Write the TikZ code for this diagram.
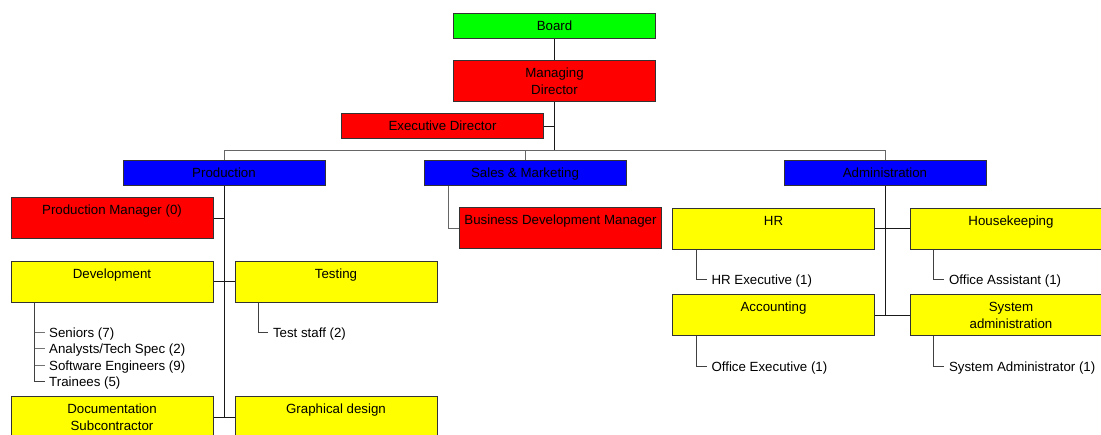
\documentclass[tikz,border=0pt]{standalone}
\usepackage{fontspec}
\setmainfont{Liberation Sans}
\usetikzlibrary{calc}
\definecolor{cgreen}{RGB}{0,255,0}
\definecolor{cred}{RGB}{255,0,0}
\definecolor{cblue}{RGB}{0,0,255}
\definecolor{cyellow}{RGB}{255,255,0}
\begin{document}
\begin{tikzpicture}[x=1pt,y=-1pt,
  box/.style={draw=black!80, line width=1pt, minimum width=202pt, minimum height=41pt, inner sep=0pt},
  short/.style={minimum height=25pt},
  txt/.style={inner sep=0pt, text height=9.5pt, text depth=0pt, font=\fontsize{13.3}{16}\selectfont},
  item/.style={txt, anchor=west, inner xsep=4.5pt},
  conn/.style={draw=black!90, line width=1pt},
  bus/.style={draw=black!60, line width=1pt},
  subline/.style={draw=black!75, line width=1pt},
  tick/.style={draw=black!55, line width=1pt}]
\useasboundingbox (0,0) rectangle (1101,435);
\clip (0,0) rectangle (1101,435);

% boxes
\node[box, short, fill=cgreen] (board) at (554.5,26.5) {};
\node[box, fill=cred] (md) at (554.5,81.5) {};
\node[box, short, fill=cred] (ed) at (442.5,126.5) {};
\node[box, short, fill=cblue] (prod) at (224,173.5) {};
\node[box, short, fill=cblue] (sales) at (525,173.5) {};
\node[box, short, fill=cblue] (admin) at (885,173.5) {};
\node[box, fill=cred] (pm) at (112,218.5) {};
\node[box, fill=cred] (bdm) at (560.5,228.5) {};
\node[box, fill=cyellow] (dev) at (112,282) {};
\node[box, fill=cyellow] (test) at (336,282) {};
\node[box, fill=cyellow] (doc) at (112,417.5) {};
\node[box, fill=cyellow] (gfx) at (336,417.5) {};
\node[box, fill=cyellow] (hr) at (773.5,229) {};
\node[box, fill=cyellow] (hk) at (1011,229) {};
\node[box, fill=cyellow] (acc) at (773.5,315.5) {};
\node[box, fill=cyellow] (sys) at (1011,315.5) {};

% box texts
\node[txt] (tboard) at ($(board.north)+(0,12.5)$) {Board};
\node[txt] (tmd1) at ($(md.north)+(0,12.5)$) {Managing};
\node[txt] (tmd2) at ($(md.north)+(0,29)$) {Director};
\node[txt] (ted) at ($(ed.north)+(0,12.5)$) {Executive Director};
\node[txt] (tprod) at ($(prod.north)+(0,12.5)$) {Production};
\node[txt] (tsales) at ($(sales.north)+(0,12.5)$) {Sales \& Marketing};
\node[txt] (tadmin) at ($(admin.north)+(0,12.5)$) {Administration};
\node[txt] (tpm) at ($(pm.north)+(0,12.5)$) {Production Manager (0)};
\node[txt] (tbdm) at ($(bdm.north)+(0,12.5)$) {Business Development Manager};
\node[txt] (tdev) at ($(dev.north)+(0,12.5)$) {Development};
\node[txt] (ttest) at ($(test.north)+(0,12.5)$) {Testing};
\node[txt] (tdoc1) at ($(doc.north)+(0,12.5)$) {Documentation};
\node[txt] (tdoc2) at ($(doc.north)+(0,29)$) {Subcontractor};
\node[txt] (tgfx) at ($(gfx.north)+(0,12.5)$) {Graphical design};
\node[txt] (thr) at ($(hr.north)+(0,12.5)$) {HR};
\node[txt] (thk) at ($(hk.north)+(0,12.5)$) {Housekeeping};
\node[txt] (tacc) at ($(acc.north)+(0,12.5)$) {Accounting};
\node[txt] (tsys1) at ($(sys.north)+(0,12.5)$) {System};
\node[txt] (tsys2) at ($(sys.north)+(0,29)$) {administration};

% top connectors
\coordinate (busmid) at ($(md.south)+(0,48)$);
\coordinate (busL) at (prod.north |- busmid);
\coordinate (busR) at (admin.north |- busmid);
\draw[conn] (board) -- (md);
\draw[conn] (md.south) -- (busmid);
\draw[conn] (ed.east) -- (ed.east -| md.south);
\draw[bus] (busL) -- (busR);
\draw[bus] (busL) -- (prod.north);
\draw[bus] (sales.north |- busmid) -- (sales.north);
\draw[bus] (busR) -- (admin.north);

% production branch
\draw[conn] (prod.south) -- (prod.south |- doc.east);
\draw[conn] (pm.east) -- (pm.east -| prod.south);
\draw[conn] (dev.east) -- (test.west);
\draw[conn] (doc.east) -- (gfx.west);

% sales branch
\coordinate (strunk) at ($(sales.south west)+(24.5,0)$);
\draw[bus] (strunk) |- (bdm.west);

% administration branch
\draw[conn] (admin.south) -- (admin.south |- acc.east);
\draw[conn] (hr.east) -- (hk.west);
\draw[conn] (acc.east) -- (sys.west);

% sub items
\coordinate (devtr) at ($(dev.south west)+(24,0)$);
\node[item] (s1) at ($(devtr)+(10,29.5)$) {Seniors (7)};
\node[item] (s2) at ($(devtr)+(10,46)$) {Analysts/Tech Spec (2)};
\node[item] (s3) at ($(devtr)+(10,62.3)$) {Software Engineers (9)};
\node[item] (s4) at ($(devtr)+(10,78.5)$) {Trainees (5)};
\draw[subline] (devtr) |- (s4.west);
\draw[tick] (devtr |- s1.west) -- (s1.west);
\draw[tick] (devtr |- s2.west) -- (s2.west);
\draw[tick] (devtr |- s3.west) -- (s3.west);

\coordinate (testtr) at ($(test.south west)+(24.3,0)$);
\node[item] (ts) at ($(testtr)+(9.5,29.7)$) {Test staff (2)};
\draw[subline] (testtr) |- (ts.west);

\coordinate (hrtr) at ($(hr.south west)+(24.3,0)$);
\node[item] (hre) at ($(hrtr)+(10.5,29.3)$) {HR Executive (1)};
\draw[subline] (hrtr) |- (hre.west);

\coordinate (hktr) at ($(hk.south west)+(24.3,0)$);
\node[item] (oa) at ($(hktr)+(10.5,29.3)$) {Office Assistant (1)};
\draw[subline] (hktr) |- (oa.west);

\coordinate (acctr) at ($(acc.south west)+(24.3,0)$);
\node[item] (oe) at ($(acctr)+(10.5,30)$) {Office Executive (1)};
\draw[subline] (acctr) |- (oe.west);

\coordinate (systr) at ($(sys.south west)+(24.3,0)$);
\node[item] (sa) at ($(systr)+(10.5,30)$) {System Administrator (1)};
\draw[subline] (systr) |- (sa.west);
\end{tikzpicture}
\end{document}
